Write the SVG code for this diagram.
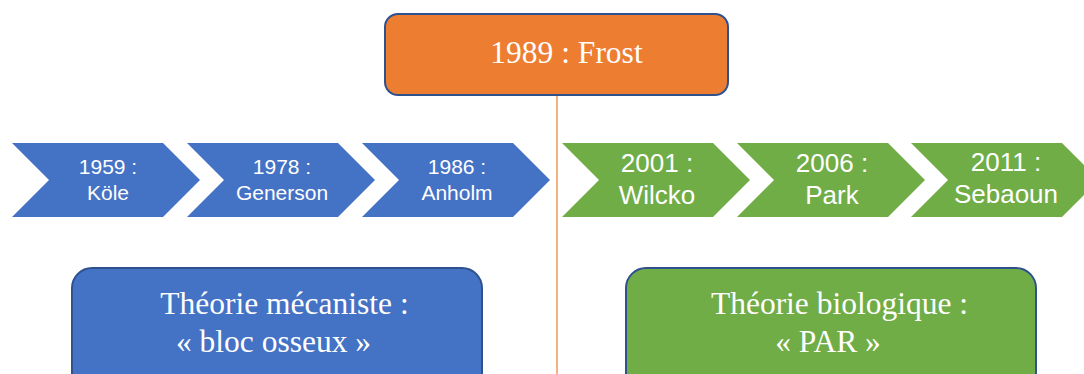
<svg xmlns="http://www.w3.org/2000/svg" width="1084" height="374" viewBox="0 0 1084 374">
<defs>
<style>
.bl{fill:#4472C4}
.gr{fill:#70AD47}
.ct{font-family:"Liberation Sans",Arial,sans-serif;fill:#fff;text-anchor:middle}
.cs{font-size:21px}
.cg{font-size:26px}
.st{font-family:"Liberation Serif","Times New Roman",serif;fill:#fff;text-anchor:middle;font-size:31.5px}
.box{stroke:#2F528F;stroke-width:2}
</style>
<path id="chev" d="M0,0 H151 L188,37 L151,74 H0 L37,37 Z"/>
</defs>
<rect width="1084" height="374" fill="#fff"/>
<g id="connectors">
<line x1="557" y1="95" x2="557" y2="374" stroke="#ED7D31" stroke-width="1.2"/>
</g>
<g id="frost">
<rect class="box" x="385" y="14" width="343" height="81" rx="13" fill="#ED7D31"/>
<text class="st" x="566.5" y="63">1989 : Frost</text>
</g>
<g id="n1959">
<use href="#chev" class="bl" x="12" y="143"/>
<text class="ct cs" x="108" y="174">1959 :</text>
<text class="ct cs" x="108" y="200">Köle</text>
</g>
<g id="n1978">
<use href="#chev" class="bl" x="187" y="143"/>
<text class="ct cs" x="282" y="174">1978 :</text>
<text class="ct cs" x="282" y="200">Generson</text>
</g>
<g id="n1986">
<use href="#chev" class="bl" x="362" y="143"/>
<text class="ct cs" x="457" y="174">1986 :</text>
<text class="ct cs" x="457" y="200">Anholm</text>
</g>
<g id="n2001">
<use href="#chev" class="gr" x="562" y="143"/>
<text class="ct cg" x="657" y="172">2001 :</text>
<text class="ct cg" x="657" y="204">Wilcko</text>
</g>
<g id="n2006">
<use href="#chev" class="gr" x="737" y="143"/>
<text class="ct cg" x="832" y="172">2006 :</text>
<text class="ct cg" x="832" y="204">Park</text>
</g>
<g id="n2011">
<use href="#chev" class="gr" x="911" y="143"/>
<text class="ct cg" x="1006" y="171">2011 :</text>
<text class="ct cg" x="1006" y="203">Sebaoun</text>
</g>
<g id="mecaniste">
<rect class="box bl" x="72" y="268" width="410" height="130" rx="20"/>
<text class="st" x="284.5" y="314">Théorie mécaniste :</text>
<text class="st" x="273.5" y="352">« bloc osseux »</text>
</g>
<g id="biologique">
<rect class="box gr" x="626" y="268" width="410" height="130" rx="20"/>
<text class="st" x="839.5" y="314">Théorie biologique :</text>
<text class="st" x="828" y="352">« PAR »</text>
</g>
</svg>
